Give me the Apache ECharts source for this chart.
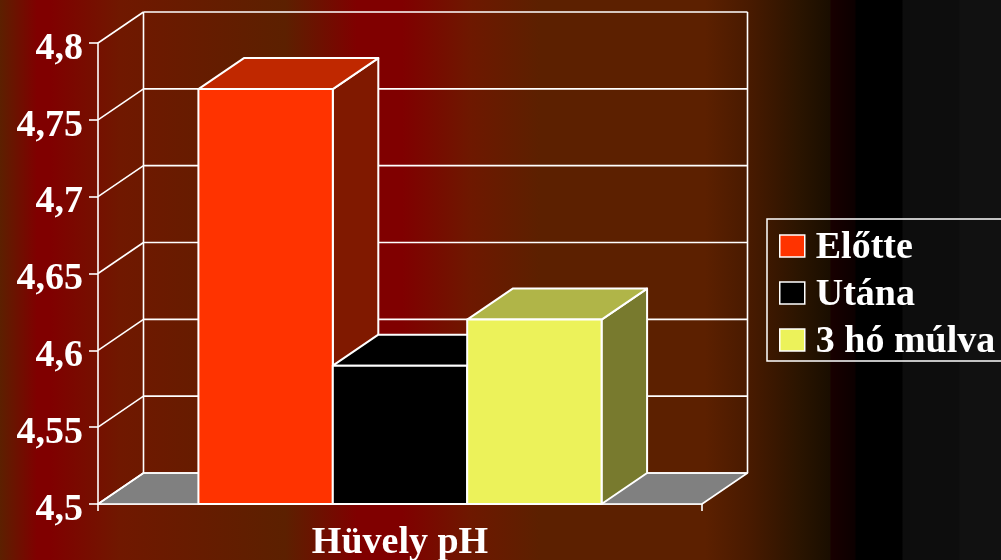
<!DOCTYPE html>
<html><head><meta charset="utf-8">
<style>html,body{margin:0;padding:0;background:#000}#c{width:1001px;height:560px}</style>
<script src="https://cdn.jsdelivr.net/npm/echarts@6/dist/echarts.min.js"></script>
</head><body><div id="c"></div>
<script>
const groupName = ['Hüvely pH'];
const seriesNames = ['Előtte', 'Utána', '3 hó múlva'];
const before = [4.77];
const after = [4.59];
const threeMonths = [4.62];
const tickValues = [4.5, 4.55, 4.6, 4.65, 4.7, 4.75, 4.8];
const faceColors = ['#ff3300', '#000000', '#ecf25a'];
const topColors = ['#c02800', '#000000', '#b0b548'];
const sideColors = ['#801900', '#000000', '#787a2e'];
const backgroundStops = [
  [0, '#5c2000'], [37, '#800000'], [50, '#800000'], [120, '#701800'], [285, '#5c2000'],
  [357, '#800000'], [402, '#800000'], [470, '#6e1800'], [540, '#5c2000'],
  [705, '#5c2000'], [750, '#481a00'], [800, '#2a1400'], [830, '#1a0e00'], [831, '#180000'],
  [855, '#0c0000'], [856, '#000000'], [902, '#000000'], [903, '#0d0d0d'], [959, '#0d0d0d'],
  [960, '#111111'], [1001, '#111111']
];

const depth = [45.5, -31];
const line = { stroke: '#ffffff', lineWidth: 1.6, fill: null };

function poly(points, fill, width) {
  return { type: 'polygon', shape: { points }, style: { fill, stroke: '#ffffff', lineWidth: width || 1.6, lineJoin: 'round' } };
}
function seg(a, b) {
  return { type: 'line', shape: { x1: a[0], y1: a[1], x2: b[0], y2: b[1] }, style: line };
}

// Walls, floor and tick rails of the box behind the bars
function renderBox(params, api) {
  const x0 = params.coordSys.x, w = params.coordSys.width;
  const y = api.coord([0, api.value(0)])[1];
  const kids = [];
  const dx = depth[0], dy = depth[1];
  if (params.dataIndex === 0) {
    kids.push(poly([[x0, y], [x0 + w, y], [x0 + w + dx, y + dy], [x0 + dx, y + dy]], '#808080'));
    const topY = api.coord([0, tickValues[tickValues.length - 1]])[1];
    kids.push(seg([x0 + dx, y + dy], [x0 + dx, topY + dy]));
    kids.push(seg([x0 + w + dx, y + dy], [x0 + w + dx, topY + dy]));
  }
  kids.push(seg([x0, y], [x0 + dx, y + dy]));
  kids.push(seg([x0 + dx, y + dy], [x0 + w + dx, y + dy]));
  return { type: 'group', children: kids };
}

// One extruded bar: front face, lid and right-hand side
function makeBarRenderer(slot) {
  return function (params, api) {
    const base = api.coord([api.value(0), tickValues[0]]);
    const top = api.coord([api.value(0), api.value(1)]);
    const band = api.size([1, 0])[0];
    const barW = band * 0.2225;
    const x = base[0] + (slot - 1.5) * barW;
    const x2 = x + barW, yb = base[1], yt = top[1];
    const dx = depth[0], dy = depth[1];
    return {
      type: 'group',
      children: [
        poly([[x2, yb], [x2 + dx, yb + dy], [x2 + dx, yt + dy], [x2, yt]], sideColors[slot], 2),
        poly([[x, yt], [x2, yt], [x2 + dx, yt + dy], [x + dx, yt + dy]], topColors[slot], 2),
        poly([[x, yb], [x2, yb], [x2, yt], [x, yt]], faceColors[slot], 2)
      ]
    };
  };
}

const barSeries = [before, after, threeMonths].map((vals, i) => ({
  name: seriesNames[i],
  type: 'custom',
  z: 3 + i,
  coordinateSystem: 'cartesian2d',
  itemStyle: { color: faceColors[i] },
  renderItem: makeBarRenderer(i),
  encode: { x: 0, y: 1 },
  clip: false,
  data: vals.map((v, k) => [k, v])
}));

const chart = echarts.init(document.getElementById('c'), null, { renderer: 'canvas' });
chart.setOption({
  animation: false,
  backgroundColor: new echarts.graphic.LinearGradient(0, 0, 1, 0,
    backgroundStops.map(s => ({ offset: s[0] / 1001, color: s[1] }))),
  grid: { left: 98, top: 43, width: 604, height: 461, outerBoundsMode: 'none', containLabel: false },
  legend: {
    orient: 'vertical', left: 767, top: 219,
    data: seriesNames,
    padding: [10, 60, 0, 12], itemGap: 9,
    itemWidth: 25, itemHeight: 22,
    borderColor: '#ffffff', borderWidth: 1.5,
    icon: 'rect',
    itemStyle: { borderColor: '#ffffff', borderWidth: 1.5 },
    selectedMode: false,
    formatter: name => '{n|' + name + '}',
    textStyle: {
      color: '#ffffff', fontFamily: 'Liberation Serif', fontWeight: 'bold', fontSize: 38,
      rich: { n: { color: '#ffffff', fontFamily: 'Liberation Serif', fontWeight: 'bold', fontSize: 38, padding: [4, 0, 0, 6] } }
    }
  },
  xAxis: {
    type: 'category', data: groupName,
    axisTick: { show: true, alignWithLabel: false, length: 7, lineStyle: { color: '#fff', width: 1.6 } },
    axisLine: { lineStyle: { color: '#fff', width: 1.6 } },
    axisLabel: { color: '#fff', fontFamily: 'Liberation Serif', fontWeight: 'bold', fontSize: 38, margin: 20 }
  },
  yAxis: {
    type: 'value', min: 4.5, max: 4.8, interval: 0.05,
    splitLine: { show: false },
    axisLine: { show: true, lineStyle: { color: '#fff', width: 1.6 } },
    axisTick: { show: true, length: 9, lineStyle: { color: '#fff', width: 1.6 } },
    axisLabel: {
      color: '#fff', margin: 15,
      formatter: v => '{t|' + String(+v.toFixed(2)).replace('.', ',') + '}',
      rich: { t: { color: '#fff', fontFamily: 'Liberation Serif', fontWeight: 'bold', fontSize: 38, padding: [12, 0, 0, 0] } }
    }
  },
  series: [
    {
      type: 'custom', z: 1, silent: true, clip: false, coordinateSystem: 'cartesian2d',
      renderItem: renderBox, encode: { y: 0 },
      data: tickValues.map(v => [v])
    }
  ].concat(barSeries)
});
</script></body></html>
